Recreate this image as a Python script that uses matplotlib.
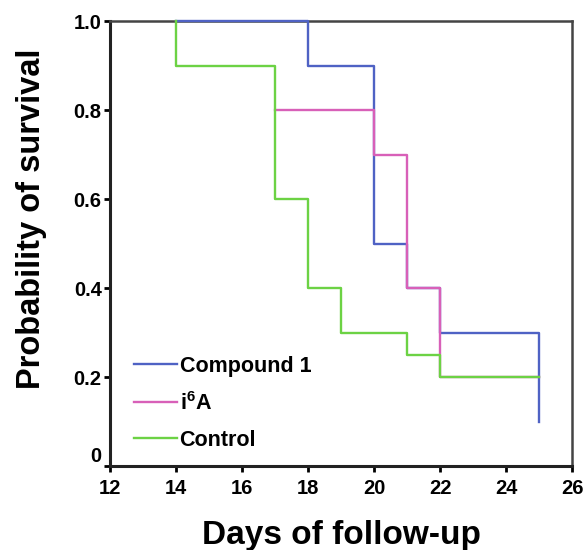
import matplotlib
matplotlib.use('Agg')
import matplotlib.pyplot as plt

plt.rcParams['font.family'] = ['Liberation Sans', 'DejaVu Sans']
plt.rcParams['font.weight'] = 'bold'
plt.rcParams['mathtext.fontset'] = 'custom'
plt.rcParams['mathtext.rm'] = 'Liberation Sans:bold'
plt.rcParams['mathtext.bf'] = 'Liberation Sans:bold'

# survival curves (day, probability), step after each day
comp1_days = [14, 18, 20, 21, 22, 25]
comp1_surv = [1.0, 0.9, 0.5, 0.4, 0.3, 0.1]

i6a_days = [17, 20, 21, 22, 25]
i6a_surv = [0.8, 0.7, 0.4, 0.2, 0.2]

ctrl_days = [14, 14, 17, 18, 19, 21, 22, 25]
ctrl_surv = [1.0, 0.9, 0.6, 0.4, 0.3, 0.25, 0.2, 0.2]

labels = ['Compound 1', r'i$^{\mathbf{6}}$A', 'Control']
colors = ['#4f62c4', '#d860b8', '#6cd244']

xticks = [12, 14, 16, 18, 20, 22, 24, 26]
yticks = [0, 0.2, 0.4, 0.6, 0.8, 1.0]
yticklabels = ['0', '0.2', '0.4', '0.6', '0.8', '1.0']

fig = plt.figure(figsize=(5.88, 5.5), dpi=100)
ax = fig.add_axes([0.1871, 0.1527, 0.7857, 0.8091])

# lines above the frame so the 1.0 segment shows over the top spine
ax.step(comp1_days, comp1_surv, where='post', color=colors[0], lw=1.7,
        label=labels[0], zorder=3, clip_on=False)
ax.step(i6a_days, i6a_surv, where='post', color=colors[1], lw=1.7,
        label=labels[1], zorder=3, clip_on=False)
ax.step(ctrl_days, ctrl_surv, where='post', color=colors[2], lw=1.7,
        label=labels[2], zorder=3, clip_on=False)

ax.set_xlim(12, 26)
ax.set_ylim(0, 1.0)
ax.set_xticks(xticks)
ax.set_yticks(yticks)
ax.set_yticklabels(yticklabels)
ax.tick_params(direction='out', length=4.5, width=2, labelsize=14.5)
ax.tick_params(axis='x', pad=5)
ax.tick_params(axis='y', pad=1.5)
ax.get_yticklabels()[0].set_va('bottom')

for side in ['left', 'bottom']:
    ax.spines[side].set_linewidth(2.2)
    ax.spines[side].set_color('#222222')
for side in ['top', 'right']:
    ax.spines[side].set_linewidth(1.8)
    ax.spines[side].set_color('#444444')

ax.set_xlabel('Days of follow-up', fontsize=24, fontweight='bold')
ax.set_ylabel('Probability of survival', fontsize=23.5, fontweight='bold')
ax.xaxis.set_label_coords(0.5, -0.121)
ax.yaxis.set_label_coords(-0.136, 0.555)

leg = ax.legend(loc='lower left', bbox_to_anchor=(0.02, 0.0), frameon=False,
                fontsize=15.5, handlelength=2.0, handletextpad=0.1,
                labelspacing=0.7, borderaxespad=0.3)
for t in leg.get_texts():
    t.set_fontweight('bold')

fig.savefig('out.png', dpi=100)
